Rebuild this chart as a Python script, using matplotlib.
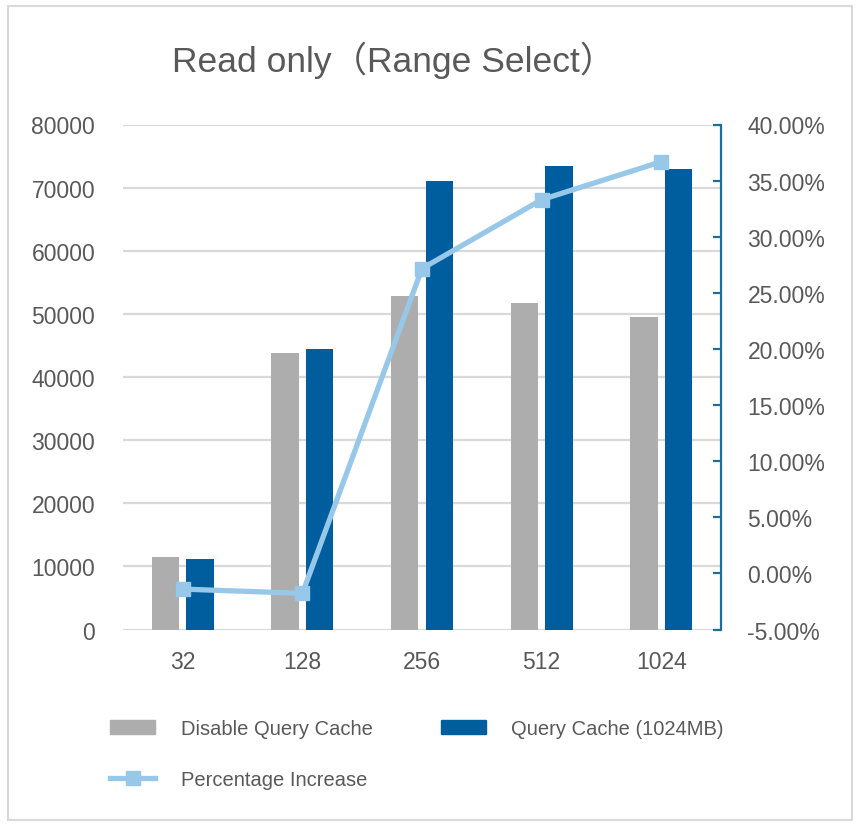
import matplotlib.pyplot as plt
from matplotlib.patches import Rectangle
from matplotlib.lines import Line2D
import numpy as np

# values
categories = ["32", "128", "256", "512", "1024"]
disable_cache = [11450, 43880, 52850, 51650, 49460]
query_cache = [11180, 44430, 71060, 73400, 72970]
pct_increase = [-1.40, -1.78, 27.16, 33.30, 36.68]

gray = "#ADADAD"
blue = "#005E9E"
light_blue = "#97C8EA"
teal = "#1F6E96"
text_col = "#595959"
grid_col = "#D9D9D9"

plt.rcParams['font.family'] = ['Liberation Sans', 'Noto Sans CJK SC', 'DejaVu Sans']

fig = plt.figure(figsize=(8.6, 8.28), dpi=100)
ax = fig.add_axes([123/860, 1-630.5/828, (721-123)/860, (630.5-125.5)/828])

x = np.arange(len(categories))
w = 0.23
ax.bar(x - 0.145, disable_cache, w, color=gray, label="Disable Query Cache")
ax.bar(x + 0.145, query_cache, w, color=blue, label="Query Cache (1024MB)")

ax.set_xlim(-0.5, len(categories) - 0.5)
ax.set_ylim(0, 80000)
ax.set_yticks(np.arange(0, 80001, 10000))
ax.set_yticklabels([str(v) for v in range(0, 80001, 10000)])
ax.set_xticks(x)
ax.set_xticklabels(categories)
ax.grid(axis='y', color=grid_col, linewidth=1.6)
ax.set_axisbelow(True)
for s in ax.spines.values():
    s.set_visible(False)
ax.tick_params(axis='y', length=0, pad=20, labelsize=16.5, labelcolor=text_col)
ax.tick_params(axis='x', length=0, pad=15, labelsize=16.5, labelcolor=text_col)

ax2 = ax.twinx()
ax2.plot(x, pct_increase, color=light_blue, linewidth=3.8, marker='s',
         markersize=10, label="Percentage Increase")
ax2.set_ylim(-5, 40)
ax2.set_yticks(np.arange(-5, 40.1, 5))
ax2.set_yticklabels([f"{v:.2f}%" for v in np.arange(-5, 40.1, 5)])
for name, s in ax2.spines.items():
    s.set_visible(name == 'right')
ax2.spines['right'].set_color(teal)
ax2.spines['right'].set_linewidth(1.6)
ax2.tick_params(axis='y', direction='in', length=6, width=1.6, color=teal,
                pad=19, labelsize=16.5, labelcolor=text_col)

fig.text(394/860, 1-60/828, "Read only（Range Select）", ha='center', va='center',
         fontsize=25.5, color=text_col)

h_gray = Rectangle((0, 0), 1, 1, color=gray)
h_blue = Rectangle((0, 0), 1, 1, color=blue)
h_line = Line2D([], [], color=light_blue, linewidth=3.8, marker='s', markersize=10)
leg = fig.legend([h_gray, h_line, h_blue],
                 ["Disable Query Cache", "Percentage Increase", "Query Cache (1024MB)"],
                 ncol=2, loc='upper left', bbox_to_anchor=(92/860, 1-702/828),
                 frameon=False, fontsize=14.5, handlelength=2.25, handleheight=0.75,
                 handletextpad=1.25, columnspacing=3.4, labelspacing=1.6,
                 labelcolor=text_col)

fig.patches.append(Rectangle((8/860, 1-821/828), 844/860, 814/828, transform=fig.transFigure,
                             fill=False, edgecolor=grid_col, linewidth=1.5))

fig.savefig("out.png", dpi=100, facecolor='white')
